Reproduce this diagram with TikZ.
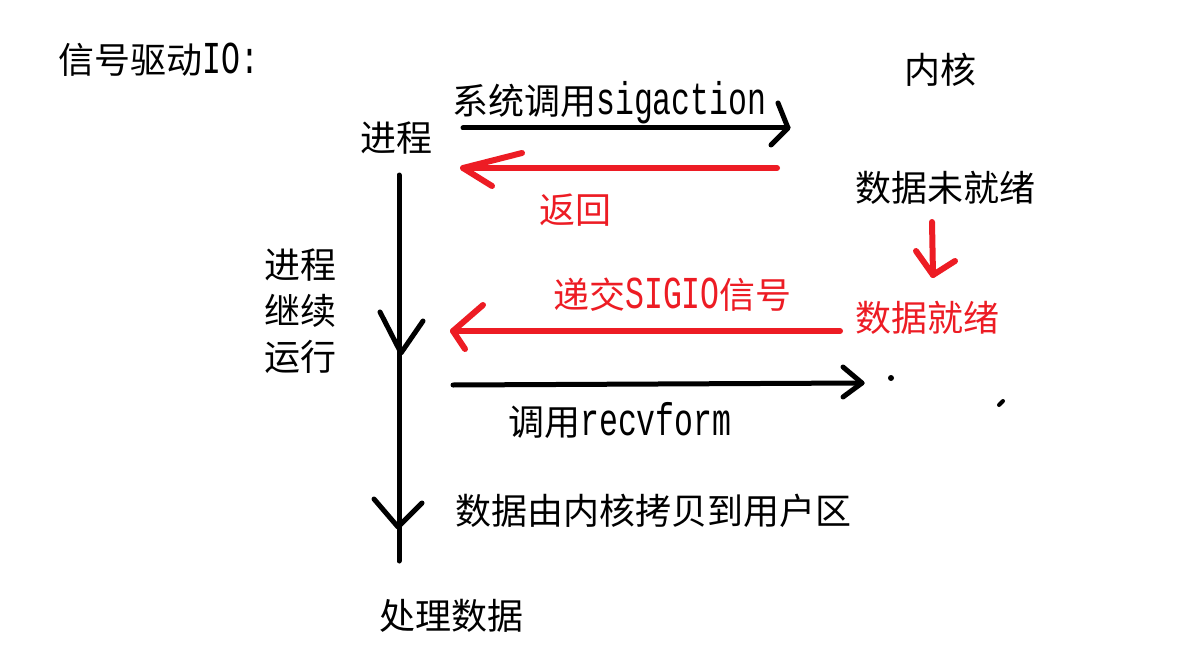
\documentclass[tikz,border=0pt]{standalone}
\usepackage{fontspec}
\newfontfamily\cjk{Noto Sans CJK SC}
\newfontfamily\lat{Liberation Mono}
\newcommand{\la}[1]{\scalebox{1}[1.45]{\lat\fontsize{31.5}{31.5}\selectfont #1}}
\definecolor{sred}{RGB}{237,28,36}
\begin{document}
\begin{tikzpicture}[x=1pt,y=-1pt,
  txt/.style={inner sep=0pt, font=\cjk\fontsize{36}{46}\selectfont},
  blk/.style={line width=5pt, line cap=round, line join=round, black},
  rln/.style={line width=6pt, line cap=round, line join=round, sred}]
\fill[white] (0,0) rectangle (1202,666);
\useasboundingbox (0,0) rectangle (1202,666);
% texts
\node[txt, anchor=west] (title) at (58,60) {信号驱动\la{IO:}};
\node[txt] (kernel) at (940,70) {内核};
\node[txt] (proc) at (396,138) {进程};
\node[txt, anchor=west] (sigact) at (452,103) {系统调用\la{sigaction}};
\node[txt, text=sred] (ret) at (575,210) {返回};
\node[txt] (notready) at (945,188) {数据未就绪};
\node[txt, text=sred] (ready) at (927,318) {数据就绪};
\node[txt, text=sred, anchor=west] (sigio) at (553,295) {递交\la{SIGIO}信号};
\node[txt, anchor=west] (recv) at (508,420) {调用\la{recvform}};
\node[txt, align=center] (cont) at (300,311) {进程\\继续\\运行};
\node[txt, anchor=west] (copy) at (455,511) {数据由内核拷贝到用户区};
\node[txt] (handle) at (451,616) {处理数据};
% coordinates
\coordinate (s1) at (463,128); \coordinate (e1) at (788,128);
\coordinate (s2) at (777,168); \coordinate (e2) at (463,168);
\coordinate (s3) at (932,222); \coordinate (e3) at (933,275);
\coordinate (s4) at (840,331); \coordinate (e4) at (453,331);
\coordinate (s5) at (453,385); \coordinate (e5) at (862,383);
\coordinate (vt) at (399,175); \coordinate (vb) at (399,561);
\coordinate (m1) at (401,353); \coordinate (m2) at (398,527);
% arrows
\draw[blk] (s1) -- (e1);
\draw[blk] (778,103) -- (e1) -- (771,145);
\draw[rln] (s2) -- (e2);
\draw[rln] (522,153) -- (e2) -- (492,186);
\draw[rln] (s3) -- (e3);
\draw[rln] (916,251) -- (e3) -- (955,261);
\draw[rln] (s4) -- (e4);
\draw[rln] (483,305) -- (e4) -- (465,349);
\draw[blk] (s5) -- (e5);
\draw[blk] (843,367) -- (e5) -- (843,397);
% vertical timeline
\draw[blk] (vt) -- (vb);
\draw[blk] (380,312) -- (m1) -- (423,321);
\draw[blk] (374,499) -- (m2) -- (422,503);
% stray marks
\fill (891,378) circle (3pt);
\draw[line width=4pt, line cap=round] (999,405) -- (1003,401);
\end{tikzpicture}
\end{document}
